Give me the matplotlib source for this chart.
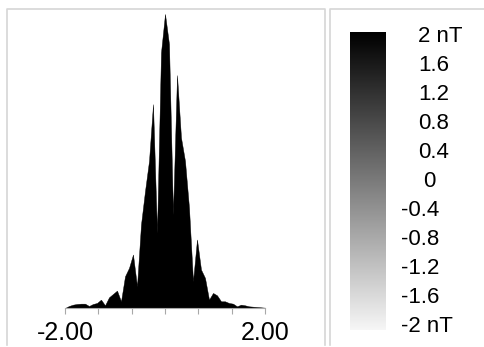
import numpy as np
import matplotlib.pyplot as plt
from matplotlib.colors import LinearSegmentedColormap

plt.rcParams['font.family'] = ['Liberation Sans', 'DejaVu Sans']

# histogram of field values (-2 .. 2 nT), 51 bins
field = np.linspace(-2, 2, 51)
counts = [0, 6, 10, 12, 13, 13, 6, 12, 15, 25,
          8, 32, 42, 52, 20, 95, 120, 160, 65, 250,
          350, 440, 610, 225, 765, 880, 790, 280, 697, 510,
          440, 300, 80, 205, 115, 90, 25, 45, 38, 20,
          20, 15, 13, 5, 10, 8, 5, 4, 3, 2, 1]

tick_pos = [-2, -4/3, -2/3, 0, 2/3, 4/3, 2]
tick_txt = ['-2.00', '', '', '', '', '', '2.00']

cbar_labels = ['2 nT', '1.6', '1.2', '0.8', '0.4', '0',
               '-0.4', '-0.8', '-1.2', '-1.6', '-2 nT']

W, H = 485, 347
fig = plt.figure(figsize=(W/100, H/100), dpi=100)

def px(x0, y0, x1, y1):
    # pixel box (top-left origin) -> figure fraction rect
    return [x0/W, 1 - y1/H, (x1-x0)/W, (y1-y0)/H]

# panel frames
bg = fig.add_axes([0, 0, 1, 1])
bg.set_xlim(0, W)
bg.set_ylim(H, 0)
bg.axis('off')
frame = '#d6d6d6'
bg.plot([7, 7, 325, 325], [345, 9, 9, 345], color=frame, lw=1.2)
bg.plot([330, 330, 490], [345, 9, 9], color=frame, lw=1.2)

# histogram
ax = fig.add_axes(px(65, 14, 265, 308))
ax.fill_between(field, counts, 0, color='black', lw=0.3, edgecolor='black')
ax.set_xlim(-2, 2)
ax.set_ylim(0, max(counts))
for s in ['top', 'right', 'left']:
    ax.spines[s].set_visible(False)
ax.spines['bottom'].set_color('#a8a8a8')
ax.spines['bottom'].set_linewidth(0.8)
ax.set_yticks([])
ax.set_xticks(tick_pos)
ax.set_xticklabels(tick_txt, fontsize=18)
ax.tick_params(axis='x', length=4, width=0.8, color='#a8a8a8', pad=5)

# colour bar
cmap = LinearSegmentedColormap.from_list('bw', ['#000000', '#f6f6f6'])
cax = fig.add_axes(px(350, 32, 386, 330))
cax.imshow(np.linspace(0, 1, 256).reshape(-1, 1), cmap=cmap, aspect='auto')
cax.axis('off')

ys = np.linspace(36, 327, len(cbar_labels))
for lab, y in zip(cbar_labels, ys):
    if lab.startswith('-'):
        x = 401
    elif lab == '0':
        x = 423
    else:
        x = 418
    bg.text(x, y, lab, fontsize=16, ha='left', va='center')

fig.savefig('out.png', dpi=100)
